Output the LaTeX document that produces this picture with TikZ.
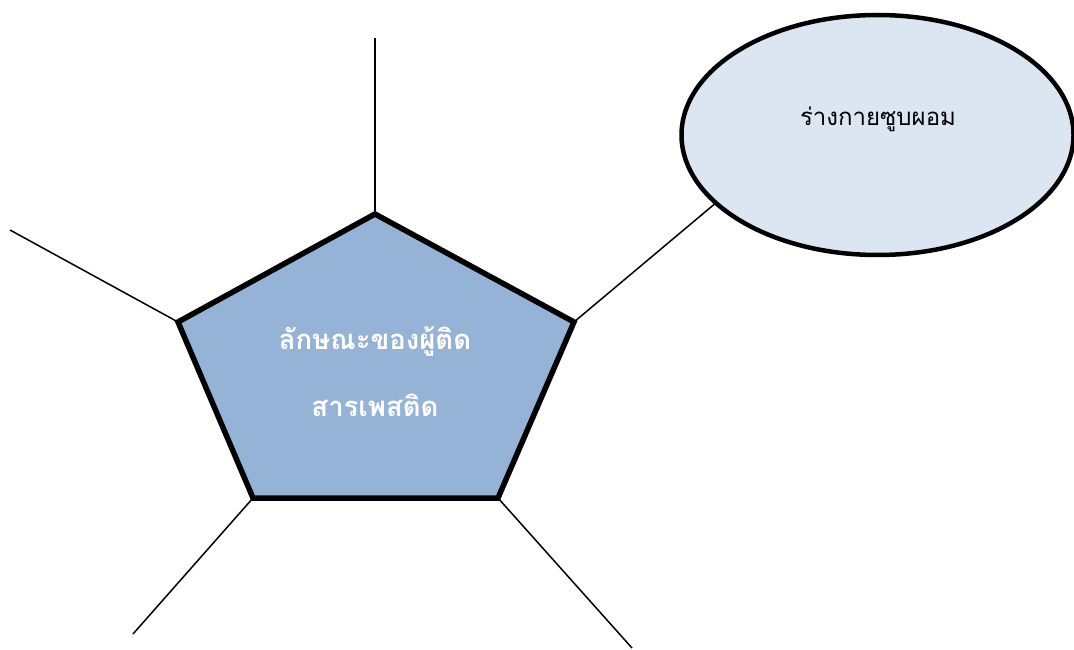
\documentclass[tikz,border=0pt]{standalone}
\usepackage{fontspec}
\newfontfamily\thaifont[Script=Thai]{Loma}
\usetikzlibrary{shapes.geometric}
\definecolor{pentfill}{HTML}{95B3D7}
\definecolor{ellfill}{HTML}{DCE6F2}
\tikzset{
  spoke/.style={draw=black, line width=1.5pt},
  pentline/.style={draw=black, line width=5.5pt, line join=miter, fill=pentfill},
  ellbox/.style={ellipse, draw=black, line width=4.5pt, fill=ellfill, minimum width=392pt, minimum height=240pt, inner sep=0pt},
  penttext/.style={text=white, font=\thaifont\bfseries\fontsize{27.5}{27.5}\selectfont, inner sep=0pt},
  elltext/.style={text=black, font=\thaifont\fontsize{24}{24}\selectfont, inner sep=0pt}
}
\begin{document}
\begin{tikzpicture}[x=1pt,y=-1pt]
\useasboundingbox (0,0) rectangle (1074,650);
% pentagon vertices
\coordinate (pt) at (375,214);
\coordinate (pr) at (574,322);
\coordinate (pbr) at (498,498);
\coordinate (pbl) at (253,498);
\coordinate (pl) at (178,322);
% spoke ends
\coordinate (et) at (375,38);
\coordinate (el) at (10,230);
\coordinate (ebl) at (133,634);
\coordinate (ebr) at (632,648);
% spokes
\draw[spoke] (pt) -- (et);
\draw[spoke] (pl) -- (el);
\draw[spoke] (pbl) -- (ebl);
\draw[spoke] (pbr) -- (ebr);
\node[ellbox] (ell) at (877.5,135) {};
\draw[spoke] (pr) -- (ell.203.4);
\draw[pentline] (pt) -- (pr) -- (pbr) -- (pbl) -- (pl) -- cycle;
\node[penttext] (t1) at (375,341) {ลักษณะของผู้ติด};
\node[penttext] (t2) at (375,405) {สารเพสติด};
\node[elltext] (t3) at (878,119) {ร่างกายซูบผอม};
\end{tikzpicture}
\end{document}
